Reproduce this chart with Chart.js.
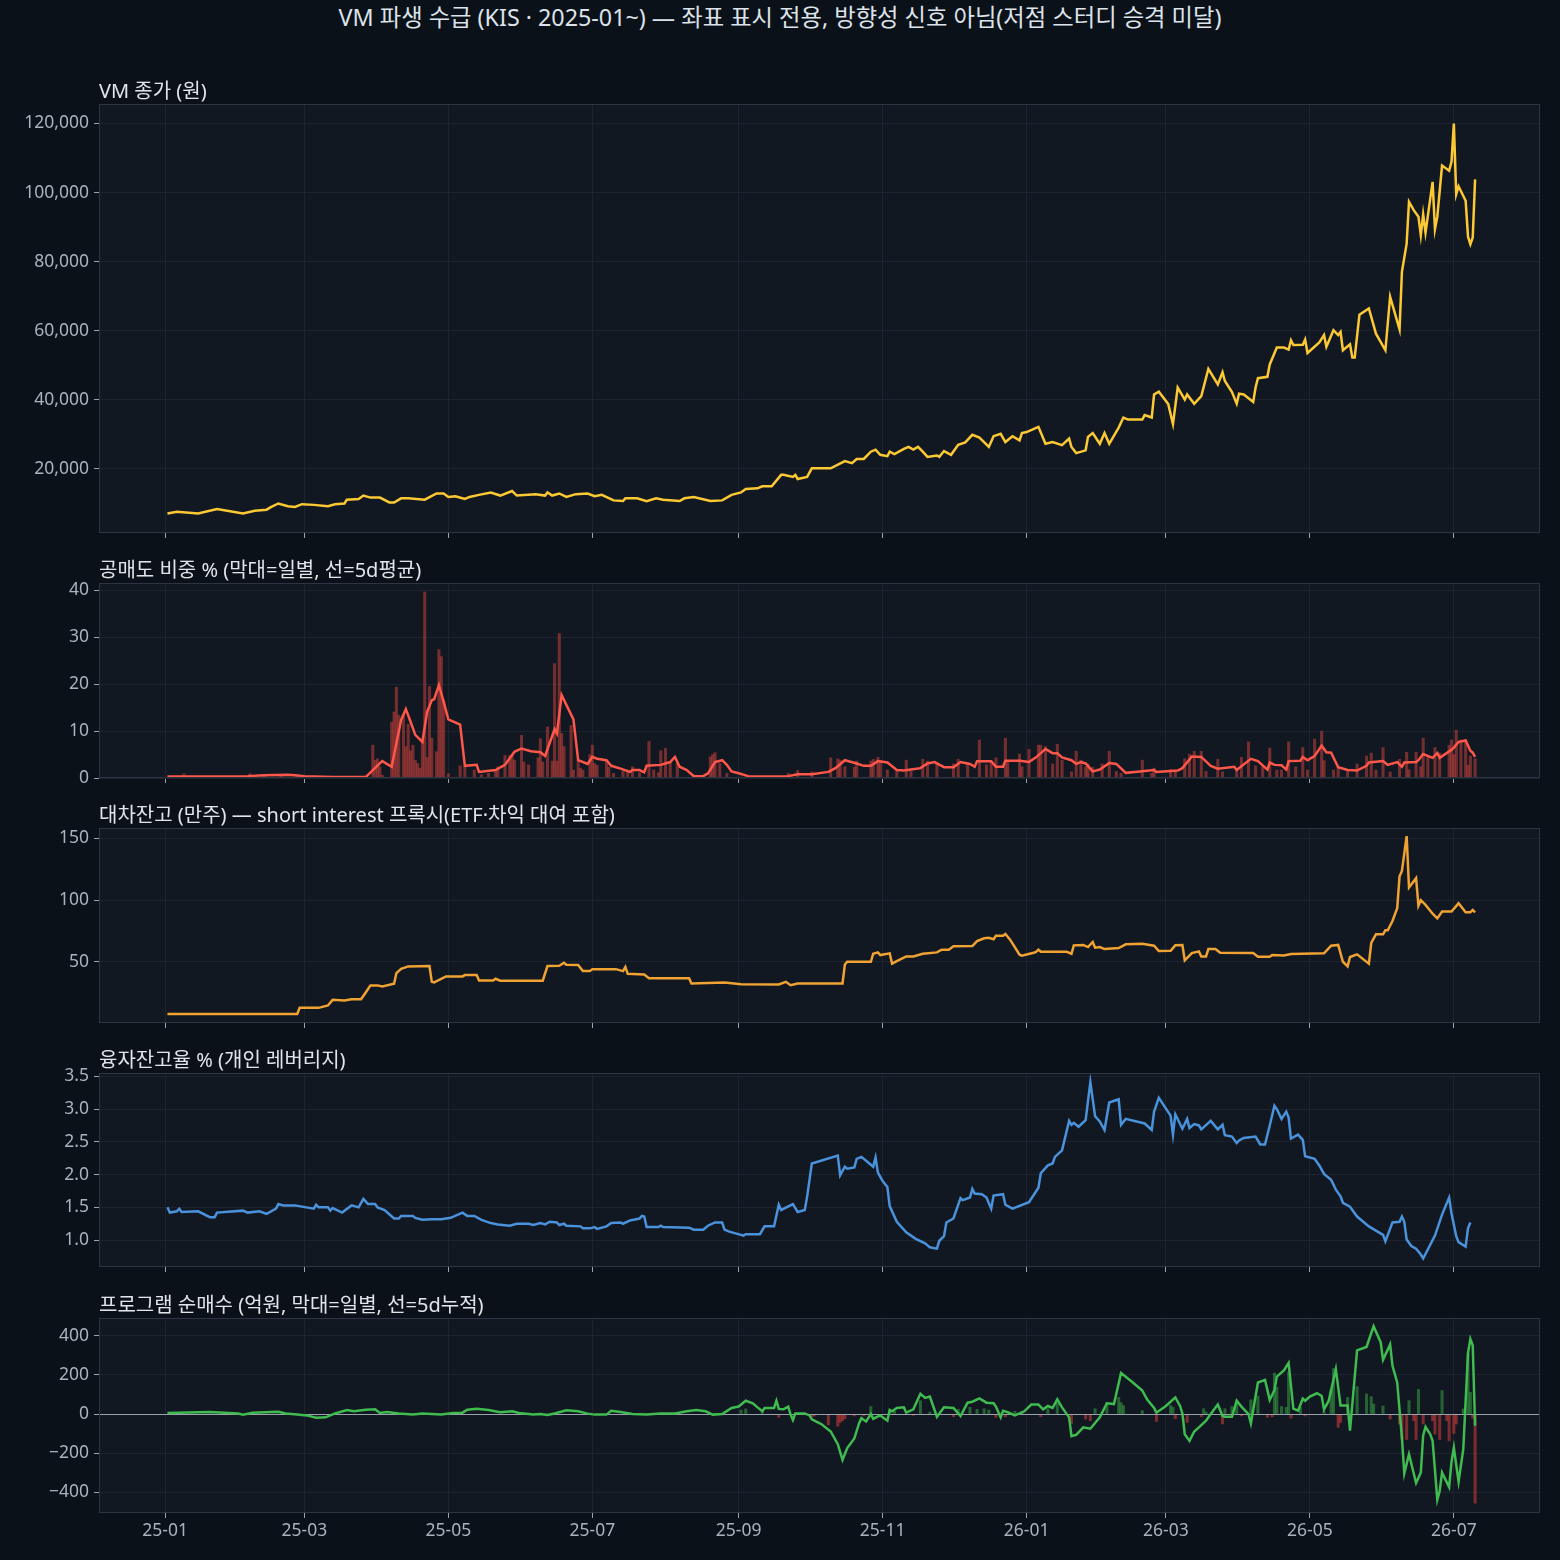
<!DOCTYPE html>
<html>
<head>
<meta charset="utf-8">
<script src="https://cdn.jsdelivr.net/npm/chart.js@4.4.1/dist/chart.umd.min.js"></script>
<style>
  html, body { margin: 0; padding: 0; background: #0b1118; }
  #wrap { position: relative; width: 1560px; height: 1560px; background: #0b1118; overflow: hidden;
          font-family: "Noto Sans", "Noto Sans CJK KR", sans-serif; }
  #title { position: absolute; left: 0; top: 2px; width: 1560px; text-align: center;
           color: #dde3ea; font-size: 23.3px; line-height: 30px; }
  canvas { position: absolute; left: 0; }
</style>
</head>
<body>
<div id="wrap">
  <div id="title">VM 파생 수급 (KIS · 2025-01~) — 좌표 표시 전용, 방향성 신호 아님(저점 스터디 승격 미달)</div>
  <canvas id="c1"></canvas>
  <canvas id="c2"></canvas>
  <canvas id="c3"></canvas>
  <canvas id="c4"></canvas>
  <canvas id="c5"></canvas>
</div>
<script>
// x values are calendar days counted from 2025-01-01 (day 0)
const tickDays = [0, 59, 120, 181, 243, 304, 365, 424, 485, 546];
const tickLabels = ['25-01', '25-03', '25-05', '25-07', '25-09', '25-11', '26-01', '26-03', '26-05', '26-07'];

// --- VM 종가 (원)
const priceDay = [1,5,14,22,33,38,43,45,48,52,55,58,63,69,72,76,77,82,84,87,91,95,97,100,103,110,115,118,120,123,127,129,133,138,142,147,149,157,161,162,164,167,170,174,179,182,185,190,194,195,200,204,208,211,218,220,224,231,236,240,244,246,251,253,257,261,262,266,267,268,272,274,282,288,291,293,296,299,301,303,306,307,309,313,315,317,319,321,323,327,328,330,333,336,339,342,345,349,351,354,356,359,362,363,365,370,373,376,380,383,384,386,390,391,393,396,398,400,404,406,408,414,415,418,419,421,425,427,429,432,433,436,439,442,446,448,449,452,454,455,457,461,462,463,467,468,471,474,476,477,478,482,483,484,489,491,492,495,497,498,499,502,503,504,506,510,513,517,519,523,524,526,527,529,531,532,533,534,537,538,539,541,544,545,546,547,548,551,552,553,554,555];
const priceVal = [7000,7500,7000,8300,7000,7800,8100,8900,9900,9100,8900,9700,9500,9100,9700,9900,11000,11200,12200,11600,11600,10200,10200,11400,11400,11000,12800,12800,11800,12000,11200,11800,12400,13100,12200,13500,12200,12600,12200,13100,12200,12800,11800,12600,12800,12000,12400,10800,10600,11400,11400,10600,11400,11000,10600,11400,11800,10600,10800,12400,13100,14100,14300,14900,14900,18200,18200,17600,18200,17000,17600,20100,20100,22200,21600,22800,22800,24900,25500,24000,23600,24900,24200,25700,26300,25500,26300,24900,23400,23800,23400,25100,24000,26900,27600,29800,29000,26300,29400,30100,27700,29400,28200,30300,30600,32100,27200,27700,26800,28700,26300,24500,25300,29200,30300,27200,30300,27200,31900,34800,34200,34200,35500,34800,41500,42300,38700,32900,43500,40000,41500,38800,41000,48900,44400,47900,45400,42200,38800,41700,41500,39300,43500,46200,46600,50200,55100,55100,54500,57200,55800,55900,57400,53500,56600,58700,55300,60100,58700,59600,54300,56000,52200,52200,64600,66400,59100,54300,69800,60300,77000,85200,97300,94900,93000,87600,93700,88400,103100,89400,93000,107800,106300,108900,120000,99500,101800,97600,87200,85000,87000,103800];
const priceTicks = [20000, 40000, 60000, 80000, 100000, 120000];

// --- 공매도 비중 % : 5일 평균 선
const ssLineDay = [1,15,35,42,52,55,59,71,85,88,92,96,100,102,104,106,109,111,113,114,116,118,120,125,127,132,133,140,144,148,151,155,159,161,165,166,168,170,173,175,179,181,183,187,189,193,197,198,201,203,204,210,214,216,218,221,224,228,230,233,236,238,240,243,247,254,264,268,274,281,284,288,293,296,299,302,306,310,313,316,320,323,326,330,334,337,341,343,344,350,352,355,356,362,366,369,373,376,378,380,384,386,388,390,393,396,400,403,407,413,419,420,429,431,435,439,443,446,453,454,460,463,467,468,470,473,475,476,481,482,484,487,490,492,494,497,501,505,509,510,516,518,522,524,525,530,531,533,537,539,540,545,546,548,551,553,554,555];
const ssLineVal = [0.3,0.3,0.4,0.6,0.7,0.6,0.4,0.2,0.2,1.7,3.6,2.4,12.4,14.7,12.0,9.2,7.7,14.1,16.6,16.8,19.8,16.3,12.5,11.4,2.6,2.8,1.3,1.7,2.8,5.6,6.3,5.7,5.5,4.7,10.4,9.5,17.7,15.6,12.5,3.8,3.0,4.5,4.1,3.8,2.6,2.0,1.3,1.7,1.7,1.2,2.6,2.8,3.4,4.5,2.4,1.7,0.4,0.4,1.0,3.4,3.8,2.8,1.4,1.0,0.4,0.3,0.4,0.8,0.8,1.3,2.1,3.8,3.1,2.6,2.6,3.6,3.3,1.7,1.6,1.8,2.1,3.1,3.4,2.3,2.3,3.4,3.0,2.4,3.6,3.6,2.4,2.4,3.7,3.7,3.4,4.4,6.2,5.3,5.3,4.4,3.8,3.0,3.4,3.1,1.4,1.8,3.2,3.0,1.1,1.4,1.7,1.3,1.6,2.1,4.6,4.5,2.6,2.0,2.4,1.7,4.1,3.6,1.8,3.3,2.8,2.7,1.8,3.6,3.7,4.5,3.8,4.7,6.9,5.5,5.4,2.3,1.7,1.6,2.6,3.3,3.6,2.8,3.4,2.4,3.3,3.4,3.8,5.1,4.3,5.3,4.3,6.0,6.5,7.7,8.0,5.8,5.4,4.5];
// --- 공매도 비중 % : 일별 막대
const ssBarDay = [8,36,42,49,56,88,89,90,91,92,96,97,98,99,101,102,103,104,105,106,107,108,109,110,111,112,113,115,116,117,118,120,125,127,131,134,137,140,141,144,146,147,148,151,152,154,158,159,160,162,164,165,166,167,168,169,172,173,175,176,177,180,181,182,183,187,188,190,194,196,198,201,205,207,209,210,212,214,217,231,232,233,235,238,264,268,274,282,285,286,288,292,293,299,300,302,303,306,310,314,316,321,323,327,334,336,340,345,348,350,352,356,357,362,363,366,370,371,373,376,378,380,384,386,388,390,391,393,397,400,403,405,414,418,419,426,428,432,434,436,439,441,446,448,454,456,459,462,465,468,471,473,476,479,482,484,487,490,491,495,497,501,505,509,511,513,516,519,523,526,527,530,532,533,535,538,540,544,545,546,547,549,551,552,553,555];
const ssBarVal = [0.9,0.9,0.5,0.6,0.6,7.0,3.8,4.1,2.4,0.6,11.9,14.1,19.4,13.4,13.4,6.7,11.5,5.8,7.0,3.8,3.1,2.1,8.1,39.7,4.4,19.5,8.5,5.6,27.4,25.9,16.6,0.9,2.6,2.6,1.7,0.7,1.0,1.4,2.4,4.8,4.8,4.8,3.8,9.1,3.4,2.8,4.3,8.4,3.4,10.9,3.6,24.4,3.6,30.8,9.5,6.7,11.2,1.7,3.8,2.1,1.7,5.0,7.0,3.1,2.7,3.6,2.3,1.0,1.4,1.4,2.4,1.1,7.8,1.7,1.1,5.8,6.3,3.4,3.1,4.5,5.0,5.4,3.1,1.0,1.0,1.6,1.3,4.3,4.1,3.8,2.4,2.3,3.6,3.6,4.0,4.4,3.6,1.7,1.4,3.8,1.4,4.0,3.6,3.0,3.0,4.0,3.1,8.1,2.8,3.6,4.3,8.5,3.6,5.1,2.4,6.1,7.0,7.0,6.7,3.0,7.2,3.8,1.3,5.7,3.8,2.4,3.0,2.3,3.0,5.7,1.4,1.0,3.8,1.0,2.1,1.8,1.7,4.1,5.1,5.7,5.7,1.4,4.0,1.3,1.7,4.4,7.7,2.6,2.4,6.4,1.7,1.7,7.7,2.4,6.5,1.7,8.3,10.0,3.7,1.7,2.3,1.7,3.0,4.7,5.3,1.7,6.5,1.3,4.0,5.5,1.8,5.5,2.4,8.5,4.5,6.5,5.3,7.0,8.1,5.0,10.2,8.1,8.2,2.7,4.7,4.1];
const ssTicks = [0, 10, 20, 30, 40];

// --- 대차잔고 (만주)
const siDay = [1,56,57,65,69,71,76,79,83,85,87,90,92,97,98,100,103,112,113,114,119,126,127,132,133,139,140,142,160,162,167,169,170,175,177,180,181,191,194,195,196,203,205,222,223,237,244,260,263,265,268,287,288,289,299,300,302,303,307,308,310,314,317,321,327,329,332,334,342,344,347,349,351,352,355,356,358,362,363,368,369,370,371,382,384,385,389,391,393,394,396,398,404,407,414,419,421,426,428,431,432,435,438,439,441,442,445,447,461,463,468,469,474,477,491,494,497,499,501,502,505,510,511,513,516,517,518,520,522,523,524,526,527,530,531,532,534,537,539,541,545,548,551,553,554,555];
const siVal = [7.7,7.7,12.6,12.6,14.5,19.1,18.6,19.6,19.6,25.1,30.8,30.8,29.9,32.1,40.8,44.3,46.2,46.5,33.7,33.2,38.1,38.1,39.2,39.2,34.8,34.8,36.2,34.6,34.6,46.5,46.7,49.2,47.6,47.3,42.4,42.4,44.0,44.0,42.4,45.7,40.2,39.7,36.7,36.7,32.4,33.2,31.8,31.6,33.7,31.0,32.4,32.4,47.8,50.0,50.0,56.5,57.6,55.4,56.8,48.4,50.5,54.3,54.3,56.5,57.6,59.8,59.8,62.5,62.7,66.8,69.0,69.5,68.2,71.1,71.1,72.5,67.9,55.7,54.9,57.3,57.9,59.8,58.1,58.1,56.5,63.3,63.6,61.9,66.0,61.4,61.9,60.3,61.1,64.1,64.6,63.0,58.7,58.9,63.3,63.6,51.1,57.0,58.4,54.3,54.3,60.3,60.3,57.3,57.0,54.1,54.1,55.4,55.1,56.2,56.8,63.0,63.6,50.0,46.2,53.8,56.0,48.4,65.2,72.2,72.2,75.5,75.5,83.1,93.4,119.4,123.7,151.9,110.2,117.8,95.5,99.9,96.1,89.0,85.2,90.7,90.7,97.4,90.1,90.1,92.0,90.1];
const siTicks = [50, 100, 150];

// --- 융자잔고율 %
const mrDay = [1,2,5,6,7,14,19,21,22,33,35,40,43,47,48,50,55,63,64,65,69,70,71,75,79,82,84,86,89,90,93,97,99,100,105,106,109,113,117,121,126,128,131,134,138,141,146,149,154,156,159,161,163,166,167,169,170,176,177,180,182,183,187,189,193,194,197,201,202,203,204,209,210,211,222,224,228,230,233,236,237,239,244,245,246,252,254,258,260,261,266,268,271,272,274,285,286,288,289,292,293,295,298,300,301,302,304,306,307,310,314,318,322,324,327,328,330,331,334,337,338,341,342,343,346,348,350,351,355,356,359,366,370,371,374,376,377,380,383,384,385,387,390,392,394,396,398,400,404,405,407,415,418,419,421,426,427,428,431,433,434,436,438,439,443,446,448,449,452,454,455,457,462,464,466,468,470,471,473,475,476,477,480,482,483,487,489,491,494,496,498,499,502,505,510,516,517,520,523,524,525,526,528,530,532,533,538,541,544,545,547,548,551,552,553];
const mrVal = [1.50,1.42,1.44,1.48,1.43,1.44,1.35,1.35,1.42,1.45,1.42,1.44,1.40,1.48,1.55,1.53,1.53,1.48,1.54,1.50,1.50,1.45,1.49,1.42,1.53,1.50,1.63,1.55,1.55,1.50,1.46,1.33,1.33,1.37,1.37,1.34,1.31,1.32,1.32,1.34,1.42,1.37,1.37,1.31,1.26,1.24,1.22,1.25,1.25,1.23,1.26,1.24,1.28,1.27,1.23,1.25,1.22,1.21,1.18,1.18,1.20,1.17,1.21,1.26,1.27,1.25,1.30,1.33,1.37,1.36,1.20,1.20,1.22,1.20,1.19,1.16,1.16,1.22,1.27,1.27,1.16,1.13,1.08,1.07,1.09,1.09,1.21,1.21,1.54,1.46,1.55,1.43,1.46,1.66,2.17,2.29,1.99,2.12,2.09,2.11,2.24,2.27,2.18,2.12,2.26,2.03,1.90,1.81,1.52,1.28,1.12,1.02,0.95,0.89,0.87,0.99,1.06,1.27,1.33,1.64,1.61,1.65,1.78,1.71,1.70,1.65,1.48,1.68,1.70,1.54,1.48,1.58,1.80,2.02,2.14,2.17,2.27,2.37,2.82,2.76,2.79,2.73,2.83,3.41,2.89,2.81,2.68,3.10,3.15,2.76,2.85,2.78,2.68,2.96,3.17,2.90,2.61,2.92,2.70,2.85,2.71,2.77,2.75,2.69,2.82,2.69,2.76,2.60,2.58,2.48,2.52,2.56,2.58,2.46,2.46,2.75,3.05,3.00,2.85,2.96,2.87,2.55,2.61,2.53,2.28,2.24,2.14,2.01,1.92,1.77,1.67,1.57,1.51,1.36,1.21,1.08,0.98,1.27,1.28,1.36,1.28,1.01,0.91,0.87,0.78,0.72,1.07,1.39,1.65,1.41,1.06,0.97,0.90,1.18,1.27];
const mrTicks = [1.0, 1.5, 2.0, 2.5, 3.0, 3.5];

// --- 프로그램 순매수 (억원): 5일 누적 선
const pgDay = [1,19,31,33,37,48,51,56,60,64,68,72,77,80,85,89,91,94,99,105,109,117,122,126,128,132,137,142,147,150,156,159,162,165,170,175,179,182,187,189,193,198,204,210,216,221,225,229,232,236,240,243,246,249,251,253,254,258,259,260,262,264,265,266,267,271,273,274,278,282,285,287,289,292,294,295,297,299,300,303,306,307,308,310,313,314,317,320,322,324,327,330,334,337,340,342,345,348,351,352,354,355,357,360,364,367,370,372,374,376,378,380,383,384,386,389,392,396,399,402,405,410,414,416,419,420,424,428,430,431,432,434,436,438,441,443,446,448,449,452,454,456,459,460,463,466,468,470,471,474,476,478,480,482,483,485,488,490,491,493,496,498,501,502,505,509,512,515,516,519,520,522,524,525,527,530,532,533,534,536,537,539,540,541,544,545,546,548,550,552,553,554,555];
const pgVal = [5,10,3,-3,7,12,3,-3,-7,-19,-17,3,20,14,22,24,5,10,3,-2,3,-2,5,7,22,27,20,9,14,5,-2,0,-5,3,19,14,2,-3,-3,17,10,0,-3,3,3,14,20,14,-3,0,31,38,68,55,34,14,31,31,68,26,24,38,-3,-31,3,3,-7,-27,-51,-89,-154,-234,-174,-125,-48,-21,-38,0,-24,-7,-34,21,14,31,34,7,24,103,82,89,-14,34,31,-10,58,63,80,58,55,38,-17,17,9,-7,14,48,48,24,41,31,75,34,-17,-113,-106,-68,-75,-17,55,51,209,161,120,75,31,7,41,85,41,3,-103,-137,-89,-68,-34,0,48,-10,-14,-14,68,38,0,-48,161,174,72,123,191,222,260,27,17,79,68,89,106,92,24,68,229,44,44,-85,325,342,448,366,277,355,246,161,-120,-304,-205,-352,-299,-109,-65,-103,-137,-437,-393,-299,-373,-244,-171,-345,-179,311,383,350,-60];
// --- 프로그램 순매수: 일별 막대
const pgBarDay = [64,244,246,253,260,274,275,281,285,286,287,288,292,296,299,307,309,317,320,324,334,336,341,344,347,349,352,356,360,363,371,374,378,384,390,392,394,399,404,405,406,414,420,426,427,428,433,439,440,441,448,449,452,454,456,460,463,467,469,470,471,473,475,476,477,481,483,491,494,495,497,498,501,505,509,511,512,516,519,523,524,526,527,529,530,531,533,537,538,540,541,543,544,546,547,550,552,553,554,555];
const pgBarVal = [-5,20,26,14,-17,-14,-10,-55,-62,-43,-34,-24,-10,-10,38,17,14,-7,68,10,-14,24,34,24,27,20,-17,-14,14,10,-14,27,55,-48,-26,-34,27,58,85,58,43,17,-38,44,34,-24,-43,-14,27,10,-51,27,38,68,-10,72,92,-17,-14,209,137,38,34,215,-21,34,-10,14,120,232,-68,-43,85,140,103,89,51,41,-26,-51,-128,-130,68,-34,-130,126,-51,-34,-103,-130,120,-34,-137,-99,-51,26,308,111,-21,-455];
const pgTicks = [-400, -200, 0, 200, 400];

const FONT = '"Noto Sans", "Noto Sans CJK KR", sans-serif';
const X_MIN = -28, X_MAX = 582.5;
const PLOT_BG = '#111821';
const GRID = '#1d2430';
const SPINE = '#2e3540';
const TICK_TXT = '#aab2bc';
const TICK_SIZE = 17.5;
const TITLE_SIZE = 20;

function pts(days, vals) {
    return days.map((d, i) => ({ x: d, y: vals[i] }));
}

const framePlugin = {
    id: 'frame',
    beforeDraw(chart) {
        const { ctx, chartArea: a } = chart;
        ctx.save();
        ctx.fillStyle = PLOT_BG;
        ctx.fillRect(a.left, a.top, a.right - a.left, a.bottom - a.top);
        ctx.restore();
    },
    beforeDatasetDraw(chart, args) {
        if (!chart.options.zeroLine || args.meta.type !== 'line') return;
        const { ctx, chartArea: a } = chart;
        const y = Math.round(chart.scales.y.getPixelForValue(0)) + 0.5;
        ctx.save();
        ctx.strokeStyle = '#9aa3ad';
        ctx.lineWidth = 1;
        ctx.beginPath();
        ctx.moveTo(a.left, y);
        ctx.lineTo(a.right, y);
        ctx.stroke();
        ctx.restore();
    },
    afterDraw(chart) {
        const { ctx, chartArea: a } = chart;
        ctx.save();
        ctx.strokeStyle = SPINE;
        ctx.lineWidth = 1;
        ctx.strokeRect(a.left + 0.5, a.top + 0.5, a.right - a.left - 1, a.bottom - a.top - 1);
        ctx.restore();
    }
};

function makePanel(cfg) {
    const head = 36;
    const foot = cfg.showX ? 46 : 10;
    const titlePad = 0;
    const titleBlock = TITLE_SIZE * 1.2 + titlePad;
    const xPad = 3;
    // the labelled axis turns out ~4px taller than the font box; allow for it
    const xAxisH = cfg.showX ? (5 + TICK_SIZE * 1.2 + xPad + 4) : 5;

    const canvas = document.getElementById(cfg.id);
    canvas.width = 1560;
    canvas.height = cfg.bottom - cfg.top + head + foot;
    canvas.style.top = (cfg.top - head) + 'px';

    return new Chart(canvas, {
        data: { datasets: cfg.datasets },
        options: {
            responsive: false,
            animation: false,
            devicePixelRatio: 1,
            zeroLine: !!cfg.zeroLine,
            layout: { padding: { left: 0, right: 20, top: head - titleBlock, bottom: foot - xAxisH } },
            plugins: {
                legend: { display: false },
                tooltip: { enabled: false },
                title: {
                    display: true,
                    text: cfg.title,
                    align: 'start',
                    fullSize: false,
                    color: '#e1e5ea',
                    font: { family: FONT, size: TITLE_SIZE, weight: 'normal' },
                    padding: { top: 0, bottom: titlePad }
                }
            },
            scales: {
                x: {
                    type: 'linear',
                    min: X_MIN,
                    max: X_MAX,
                    offset: false,
                    afterBuildTicks: (s) => { s.ticks = tickDays.map((v) => ({ value: v })); },
                    ticks: {
                        display: !!cfg.showX,
                        autoSkip: false,
                        maxRotation: 0,
                        color: TICK_TXT,
                        padding: xPad,
                        font: { family: FONT, size: TICK_SIZE },
                        callback: (v) => tickLabels[tickDays.indexOf(v)]
                    },
                    grid: { color: GRID, tickColor: '#9aa3ad', tickLength: 5, offset: false },
                    border: { display: false }
                },
                y: {
                    type: 'linear',
                    min: cfg.yMin,
                    max: cfg.yMax,
                    afterBuildTicks: (s) => { s.ticks = cfg.yTicks.map((v) => ({ value: v })); },
                    afterFit: (s) => { s.width = 99; s.paddingTop = 0; s.paddingBottom = 0; },
                    ticks: {
                        color: TICK_TXT,
                        padding: 5,
                        font: { family: FONT, size: TICK_SIZE },
                        callback: cfg.yFmt
                    },
                    grid: { color: GRID, tickColor: '#9aa3ad', tickLength: 5 },
                    border: { display: false }
                }
            }
        },
        plugins: [framePlugin]
    });
}

function lineSet(data, color) {
    return { type: 'line', data, borderColor: color, borderWidth: 2.5, pointRadius: 0, tension: 0, fill: false, order: 0 };
}

makePanel({
    id: 'c1', top: 104, bottom: 533, title: 'VM 종가 (원)',
    yMin: 1350, yMax: 125650, yTicks: priceTicks,
    yFmt: (v) => v.toLocaleString('en-US'),
    datasets: [lineSet(pts(priceDay, priceVal), '#fcc934')]
});

makePanel({
    id: 'c2', top: 583, bottom: 778, title: '공매도 비중 % (막대=일별, 선=5d평균)',
    yMin: 0, yMax: 41.6, yTicks: ssTicks,
    yFmt: (v) => String(v),
    datasets: [
        lineSet(pts(ssLineDay, ssLineVal), '#ff574a'),
        { type: 'bar', data: pts(ssBarDay, ssBarVal), backgroundColor: 'rgba(200,66,60,0.55)',
          barThickness: 2.4, categoryPercentage: 1, barPercentage: 1, order: 1 }
    ]
});

makePanel({
    id: 'c3', top: 828, bottom: 1023, title: '대차잔고 (만주) — short interest 프록시(ETF·차익 대여 포함)',
    yMin: 0.3, yMax: 158.5, yTicks: siTicks,
    yFmt: (v) => String(v),
    datasets: [lineSet(pts(siDay, siVal), '#f0a232')]
});

makePanel({
    id: 'c4', top: 1073, bottom: 1267, title: '융자잔고율 % (개인 레버리지)',
    yMin: 0.59, yMax: 3.55, yTicks: mrTicks,
    yFmt: (v) => v.toFixed(1),
    datasets: [lineSet(pts(mrDay, mrVal), '#4a92dc')]
});

makePanel({
    id: 'c5', top: 1318, bottom: 1512, title: '프로그램 순매수 (억원, 막대=일별, 선=5d누적)',
    yMin: -505, yMax: 490, yTicks: pgTicks, showX: true, zeroLine: true,
    yFmt: (v) => (v < 0 ? '\u2212' + Math.abs(v) : String(v)),
    datasets: [
        lineSet(pts(pgDay, pgVal), '#3fbb4f'),
        { type: 'bar', data: pts(pgBarDay, pgBarVal),
          backgroundColor: (c) => (c.raw && c.raw.y < 0 ? 'rgba(200,56,56,0.6)' : 'rgba(56,160,70,0.55)'),
          barThickness: 2.4, categoryPercentage: 1, barPercentage: 1, order: 1 }
    ]
});
</script>
</body>
</html>
